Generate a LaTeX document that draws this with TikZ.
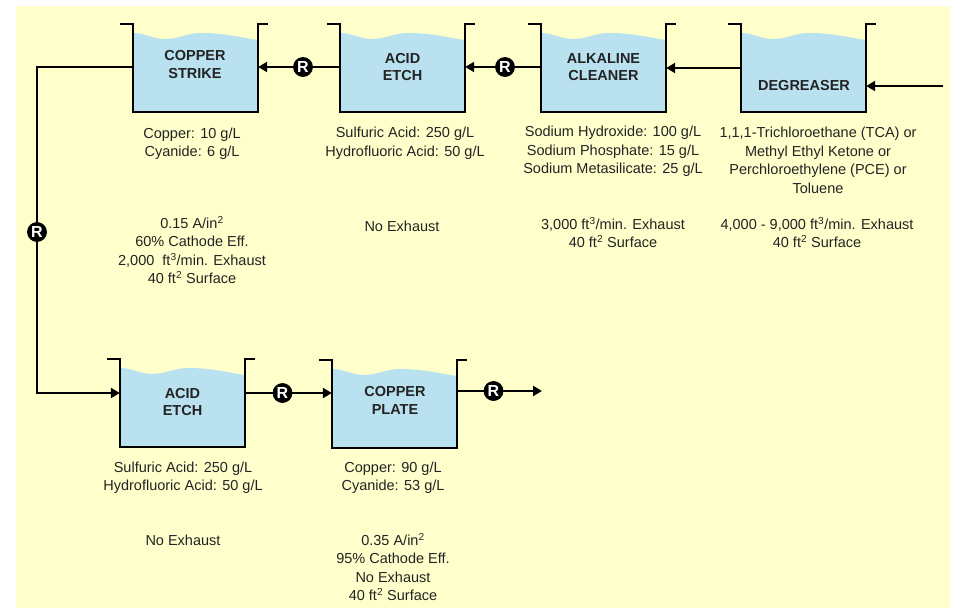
\documentclass[tikz,border=0pt]{standalone}
\usepackage{fontspec}
\setmainfont{Liberation Sans}
\usetikzlibrary{arrows.meta, positioning, calc}

\definecolor{bgyellow}{RGB}{255,255,204}
\definecolor{water}{RGB}{185,225,240}
\definecolor{inkgrey}{RGB}{35,35,35}

\newcommand{\tank}[3]{%
  \begin{scope}[shift={(#2,#3)}]
    \fill[water] (0,9) .. controls (12,9) and (20,15) .. (32,15)
      .. controls (46,15) and (54,9) .. (68,9)
      .. controls (92,9) and (110,14) .. (125,16) -- (125,88) -- (0,88) -- cycle;
    \draw[tankline] (-13,0) -- (0,0) -- (0,88) -- (125,88) -- (125,0) -- (135,0);
    \node (#1) [tankbox] at (62.5,44) {};
  \end{scope}}

\begin{document}
\begin{tikzpicture}[x=1pt, y=-1pt,
    tankline/.style={line width=2.2pt, black},
    tankbox/.style={rectangle, minimum width=125pt, minimum height=88pt, inner sep=0pt},
    tanklabel/.style={font=\bfseries\fontsize{14.5}{17.5}\selectfont, align=center, inner sep=0pt, text=inkgrey},
    info/.style={font=\fontsize{14.5}{18.5}\selectfont, align=center, inner sep=0pt, text=inkgrey},
    rinse/.style={circle, fill=black, draw=black, line width=0.8pt, text=white, inner sep=0pt, minimum size=19pt, font=\bfseries\fontsize{16}{16}\selectfont},
    flow/.style={line width=2.2pt},
    feed/.style={flow, -{Triangle[length=9pt, width=10pt]}}]
    \useasboundingbox (0,0) rectangle (956,608);
    \fill[bgyellow] (16,6) rectangle (950,608);

    \tank{strike}{133}{24}
    \tank{etchA}{340}{24}
    \tank{alkaline}{541}{24}
    \tank{degreaser}{741}{24}
    \tank{etchB}{120}{359}
    \tank{plate}{332}{360}

    \node (strikelbl) [tanklabel] at (195,64.5) {COPPER\\STRIKE};
    \node (etchAlbl) [tanklabel] at (402.5,67) {ACID\\ETCH};
    \node (alkalinelbl) [tanklabel] at (603.5,67) {ALKALINE\\CLEANER};
    \node (degreaserlbl) [tanklabel] at (804,86) {DEGREASER};
    \node (etchBlbl) [tanklabel] at (182.5,402) {ACID\\ETCH};
    \node (platelbl) [tanklabel] at (395,400.5) {COPPER\\PLATE};

    \node (r1) [rinse] at (303,67) {R};
    \node (r2) [rinse] at (505,67) {R};
    \node (r3) [rinse] at (37,232) {R};
    \node (r4) [rinse] at (282.5,393) {R};
    \node (r5) [rinse] at (493.5,391) {R};
    \coordinate (feedin) at (943,86);
    \coordinate (plateout) at (542,391);

    \draw [feed] (feedin) -- (feedin -| degreaser.east);
    \draw [feed] (degreaser.west) -- (alkaline.east);
    \draw [flow] (r2 -| alkaline.west) -- (r2);
    \draw [feed] (r2) -- (r2 -| etchA.east);
    \draw [flow] (r1 -| etchA.west) -- (r1);
    \draw [feed] (r1) -- (r1 -| strike.east);
    \draw [flow] (r1 -| strike.west) -| (r3);
    \draw [feed] (r3) |- (r4 -| etchB.west);
    \draw [flow] (r4 -| etchB.east) -- (r4);
    \draw [feed] (r4) -- (r4 -| plate.west);
    \draw [flow] (r5 -| plate.east) -- (r5);
    \draw [feed] (r5) -- (plateout);

    \node (strikechem) [info] at (192,143.5) {Copper: 10 g/L\\Cyanide: 6 g/L};
    \node (strikeop) [info] at (192,250) {0.15 A/in\textsuperscript{2}\\60\% Cathode Eff.\\2,000\ \ ft\textsuperscript{3}/min. Exhaust\\40 ft\textsuperscript{2} Surface};
    \node (etchAchem) [info] at (405,143) {Sulfuric Acid: 250 g/L\\Hydrofluoric Acid: 50 g/L};
    \node (etchAop) [info] at (402,226) {No Exhaust};
    \node (alkalinechem) [info] at (613,151.5) {Sodium Hydroxide: 100 g/L\\Sodium Phosphate: 15 g/L\\Sodium Metasilicate: 25 g/L};
    \node (alkalineop) [info] at (613,232.5) {3,000 ft\textsuperscript{3}/min. Exhaust\\40 ft\textsuperscript{2} Surface};
    \node (degreaserchem) [info] at (818,160.5) {1,1,1-Trichloroethane (TCA) or\\Methyl Ethyl Ketone or\\Perchloroethylene (PCE) or\\Toluene};
    \node (degreaserop) [info] at (817,232.5) {4,000 - 9,000 ft\textsuperscript{3}/min. Exhaust\\40 ft\textsuperscript{2} Surface};
    \node (etchBchem) [info] at (183,477.5) {Sulfuric Acid: 250 g/L\\Hydrofluoric Acid: 50 g/L};
    \node (etchBop) [info] at (183,540) {No Exhaust};
    \node (platechem) [info] at (393,477.5) {Copper: 90 g/L\\Cyanide: 53 g/L};
    \node (plateop) [info] at (393,567) {0.35 A/in\textsuperscript{2}\\95\% Cathode Eff.\\No Exhaust\\40 ft\textsuperscript{2} Surface};
\end{tikzpicture}
\end{document}
